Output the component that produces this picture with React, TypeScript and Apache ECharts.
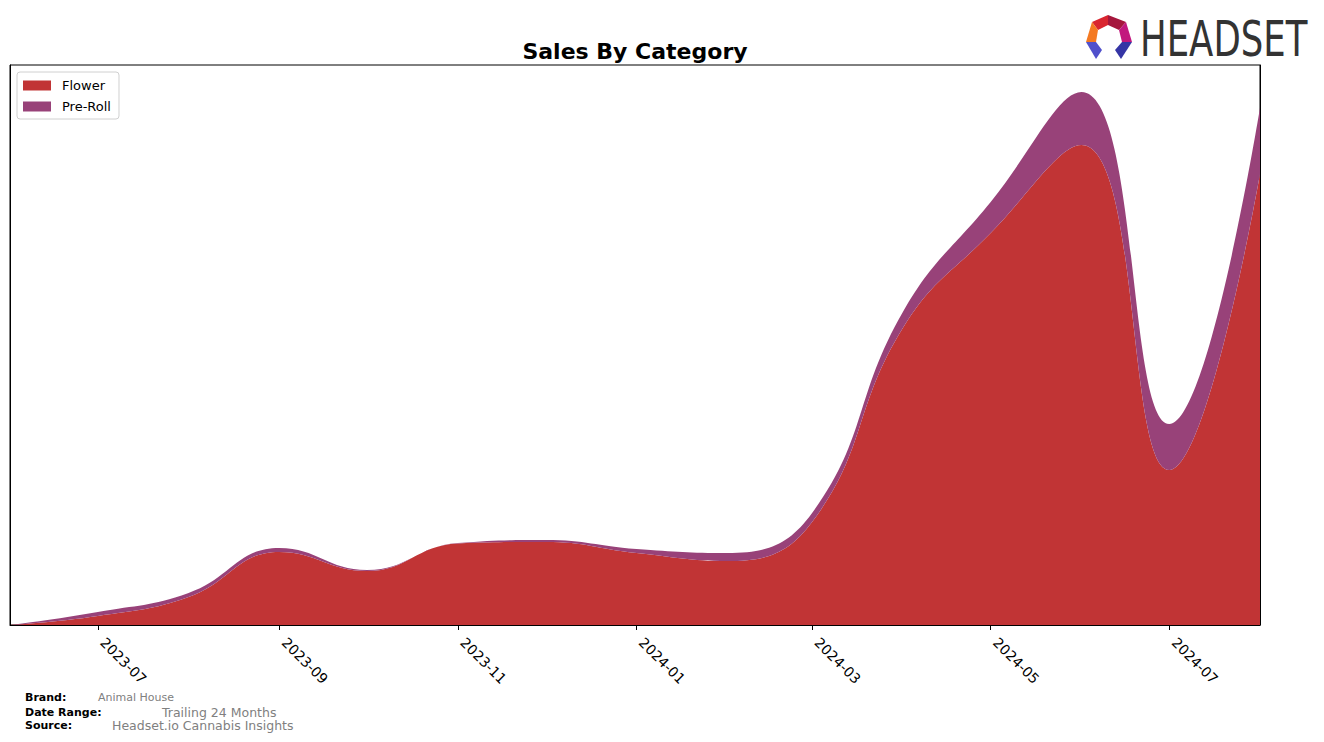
import React, { useEffect, useRef } from "react";
import * as echarts from "echarts";

const months: string[] = [
  "2023-06", "2023-07", "2023-08", "2023-09", "2023-10", "2023-11", "2023-12",
  "2024-01", "2024-02", "2024-03", "2024-04", "2024-05", "2024-06", "2024-07", "2024-08",
];
const flowerValues: number[] = [0, 9, 28, 73, 54, 81.5, 83, 72, 64, 103, 297, 392, 480, 155, 451];
const preRollValues: number[] = [0, 4, 4, 4, 1, 0.5, 2, 4, 8, 9, 16, 31, 53, 46, 66];
const tickLabels: string[] = ["2023-07", "2023-09", "2023-11", "2024-01", "2024-03", "2024-05", "2024-07"];
const seriesNames: string[] = ["Flower", "Pre-Roll"];
const seriesColors: string[] = ["#c13435", "#984279"];

const toTs = (ym: string): number => {
  const [y, m] = ym.split("-").map(Number);
  return Date.UTC(y, m - 1, 1);
};
const pad = (n: number) => (n < 10 ? "0" + n : "" + n);

export default function App() {
  const ref = useRef<HTMLDivElement>(null);
  useEffect(() => {
    if (!ref.current) return;
    const chart = echarts.init(ref.current, null, { renderer: "svg" });
    const font = "DejaVu Sans";
    const xs = months.map(toTs);
    const ticks = tickLabels.map(toTs);
    const xMin = toTs("2023-06");
    const xMax = toTs("2024-08");
    const mk = (i: number, vals: number[]) => ({
      name: seriesNames[i],
      type: "line",
      stack: "total",
      smooth: 0.45,
      symbol: "none",
      xAxisIndex: 0,
      yAxisIndex: 0,
      lineStyle: { width: 0 },
      areaStyle: { color: seriesColors[i], opacity: 1 },
      itemStyle: { color: seriesColors[i] },
      data: xs.map((x, j) => [x, vals[j]]),
    });
    chart.setOption({
      animation: false,
      backgroundColor: "#ffffff",
      textStyle: { fontFamily: font },
      grid: { left: 10, right: 64, top: 65, bottom: 117, show: true, borderColor: "#000", borderWidth: 1 },
      legend: {
        data: seriesNames,
        orient: "vertical",
        left: 17,
        top: 72,
        itemWidth: 28,
        itemHeight: 10,
        itemGap: 8,
        padding: [7, 8, 6, 6],
        backgroundColor: "#fff",
        borderColor: "#d0d0d0",
        borderWidth: 1,
        borderRadius: 3,
        icon: "rect",
        textStyle: { fontFamily: font, fontSize: 13, color: "#000", padding: [0, 0, 0, 6] },
      },
      xAxis: [
        {
          type: "time",
          position: "bottom",
          min: xMin,
          max: xMax,
          splitLine: { show: false },
          axisLine: { show: false },
          axisTick: { show: false },
          axisLabel: { show: false },
        },
        {
          type: "value",
          position: "bottom",
          min: xMin,
          max: xMax,
          splitLine: { show: false },
          axisLine: { show: true, lineStyle: { color: "#000", width: 1 } },
          axisTick: { show: true, customValues: ticks, length: 5, lineStyle: { color: "#000" } },
          axisLabel: {
            customValues: ticks,
            rotate: -45,
            fontSize: 14,
            color: "#000",
            fontFamily: font,
            margin: 20,
            verticalAlign: "bottom",
            formatter: (v: number) => {
              const d = new Date(v);
              return d.getUTCFullYear() + "-" + pad(d.getUTCMonth() + 1);
            },
          },
        },
      ],
      yAxis: [
        {
          type: "value",
          min: 0,
          max: 560,
          axisLabel: { show: false },
          axisTick: { show: false },
          splitLine: { show: false },
          axisLine: { show: true, lineStyle: { color: "#000" } },
        },
        {
          type: "value",
          position: "right",
          min: 0,
          max: 560,
          axisLabel: { show: false },
          axisTick: { show: false },
          splitLine: { show: false },
          axisLine: { show: true, lineStyle: { color: "#000" } },
        },
      ],
      series: [mk(0, flowerValues), mk(1, preRollValues)],
      graphic: [
        {
          type: "text",
          x: 635,
          y: 51,
          style: { text: "Sales By Category", font: `bold 22px ${font}`, fill: "#000", textAlign: "center", textVerticalAlign: "middle" },
        },
        { type: "text", x: 25, y: 697, style: { text: "Brand:", font: `bold 11px ${font}`, fill: "#000", textVerticalAlign: "middle" } },
        { type: "text", x: 98, y: 697, style: { text: "Animal House", font: `11px ${font}`, fill: "#808080", textVerticalAlign: "middle" } },
        { type: "text", x: 25, y: 712, style: { text: "Date Range:", font: `bold 11px ${font}`, fill: "#000", textVerticalAlign: "middle" } },
        { type: "text", x: 162, y: 712, style: { text: "Trailing 24 Months", font: `12.5px ${font}`, fill: "#808080", textVerticalAlign: "middle" } },
        { type: "text", x: 25, y: 725, style: { text: "Source:", font: `bold 11px ${font}`, fill: "#000", textVerticalAlign: "middle" } },
        { type: "text", x: 112, y: 725, style: { text: "Headset.io Cannabis Insights", font: `12.5px ${font}`, fill: "#808080", textVerticalAlign: "middle" } },
        {
          type: "text",
          x: 1140,
          y: 39,
          scaleX: 0.71,
          style: { text: "HEADSET", font: `50px ${font}`, fill: "#333333", textVerticalAlign: "middle" },
        },
        { type: "polygon", shape: { points: [[1092, 22], [1108, 15], [1108, 25], [1098, 30]] }, style: { fill: "#d9252f" } },
        { type: "polygon", shape: { points: [[1108, 15], [1126, 22], [1119, 30], [1108, 25]] }, style: { fill: "#a5163c" } },
        { type: "polygon", shape: { points: [[1092, 22], [1098, 30], [1096, 42], [1086, 42]] }, style: { fill: "#f47a22" } },
        { type: "polygon", shape: { points: [[1126, 22], [1132, 42], [1122, 42], [1119, 30]] }, style: { fill: "#c2187e" } },
        { type: "polygon", shape: { points: [[1086, 42], [1096, 42], [1102, 50], [1096, 59]] }, style: { fill: "#5050cc" } },
        { type: "polygon", shape: { points: [[1122, 42], [1132, 42], [1121, 59], [1115, 50]] }, style: { fill: "#3535a5" } },
      ],
    });
    return () => chart.dispose();
  }, []);
  return <div ref={ref} style={{ width: 1324, height: 742, position: "absolute", left: 0, top: 0 }} />;
}
